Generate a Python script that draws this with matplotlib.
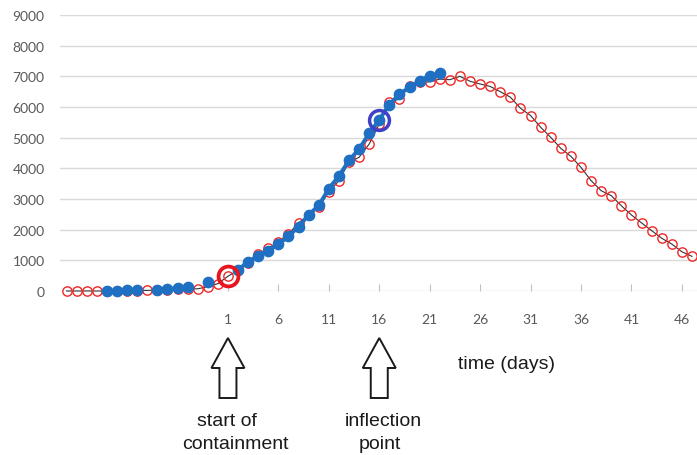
import numpy as np
import matplotlib
matplotlib.use("Agg")
import matplotlib.pyplot as plt
from matplotlib.patches import Polygon
from matplotlib.transforms import IdentityTransform

# ---------------- data ----------------
days_model = list(range(-15, 48))
model_cases = [0, 0, 0, 0, 0, 5, 10, 15, 20, 30, 40, 55, 75, 70, 140,   # -15..-1
               240,                                                    # 0
               480, 680, 920, 1200, 1390, 1600, 1860, 2220, 2480, 2730,  # 1..10
               3220, 3600, 4200, 4360, 4790, 5450, 6150, 6260, 6690, 6800,  # 11..20
               6820, 6910, 6890, 7000, 6840, 6750, 6670, 6500, 6320, 5960,  # 21..30
               5720, 5340, 5010, 4650, 4390, 4030, 3600, 3270, 3110, 2780,  # 31..40
               2480, 2220, 1970, 1720, 1530, 1280, 1130]                    # 41..47

days_obs = list(range(-11, 23))
nan = float("nan")
obs_cases = [0, 5, 20, 40, nan, 30, 60, 90, 130, nan, 300, nan,     # -11..0
             nan, 690, 950, 1150, 1310, 1530, 1780, 2100, 2480, 2790,  # 1..10
             3340, 3750, 4260, 4630, 5140, 5580, 6080, 6420, 6640, 6860,  # 11..20
             7020, 7100]                                                # 21..22

x_tick_days = list(range(1, 47, 5))
y_ticks = list(range(0, 9001, 1000))

containment_day = 1
inflection_day = 16

# ---------------- figure ----------------
W, H = 697, 456
fig = plt.figure(figsize=(W / 100, H / 100), dpi=100)
fig.patch.set_facecolor("white")
ax = fig.add_axes([60 / W, (H - 292) / H, (W - 60) / W, (292 - 16) / H])

ax.set_xlim(-15.65, 47.5)
ax.set_ylim(0, 9000)

for s in ax.spines.values():
    s.set_visible(False)

ax.set_yticks(y_ticks)
ax.yaxis.grid(True, color="#D9D9D9", linewidth=1.0)
ax.set_axisbelow(True)
ax.tick_params(axis="y", length=0, pad=11, labelsize=10, labelcolor="#595959")
for lab in ax.get_yticklabels():
    lab.set_fontfamily("Lato")

ax.set_xticks(x_tick_days)
ax.set_xticklabels([str(d) for d in x_tick_days])
ax.tick_params(axis="x", direction="in", length=5, width=0.8, color="#BFBFBF",
               pad=16, labelsize=10, labelcolor="#595959")
for lab in ax.get_xticklabels():
    lab.set_fontfamily("Lato")

# model curve (hollow red circles with thin dark line)
ax.plot(days_model, model_cases, color="#333333", linewidth=0.8,
        marker="o", markersize=6.7, markerfacecolor="none",
        markeredgecolor="#F02828", markeredgewidth=1.0, clip_on=False, zorder=3)

# observed data (blue)
ax.plot(days_obs, obs_cases, color="#1F6FC2", linewidth=2.8,
        marker="o", markersize=7.4, markerfacecolor="#1F6FC2",
        markeredgecolor="#1F6FC2", clip_on=False, zorder=4)

# highlight rings
y_cont = model_cases[days_model.index(containment_day)]
y_infl = obs_cases[days_obs.index(inflection_day)]
ax.plot([containment_day], [y_cont], marker="o", markersize=14.3,
        markerfacecolor="none", markeredgecolor="#E8141E", markeredgewidth=2.7,
        linestyle="none", clip_on=False, zorder=6)
ax.plot([inflection_day], [y_infl], marker="o", markersize=14.3,
        markerfacecolor="none", markeredgecolor="#3F3FC8", markeredgewidth=2.5,
        linestyle="none", clip_on=False, zorder=6)

# ---------------- block arrows ----------------
def block_arrow(day):
    xt = ax.transData.transform((day, 0))[0]
    tip, base, bottom = H - 339, H - 369, H - 399
    hw, sw = 16.5, 8.5
    pts = [(xt, tip), (xt + hw, base), (xt + sw, base), (xt + sw, bottom),
           (xt - sw, bottom), (xt - sw, base), (xt - hw, base)]
    poly = Polygon(pts, closed=True, facecolor="white", edgecolor="#1a1a1a",
                   linewidth=1.4, transform=IdentityTransform(), zorder=10)
    fig.patches.append(poly)
    return xt

x1 = block_arrow(containment_day)
x2 = block_arrow(inflection_day)

tkw = dict(fontsize=14, family="Liberation Sans", color="#1a1a1a",
           ha="center", va="center")
fig.text((x1 - 1) / W, 1 - 421.5 / H, "start of", **tkw)
fig.text((x1 + 7) / W, 1 - 445 / H, "containment", **tkw)
fig.text((x2 + 4) / W, 1 - 421.5 / H, "inflection", **tkw)
fig.text((x2 + 1) / W, 1 - 445 / H, "point", **tkw)
fig.text(507 / W, 1 - 365 / H, "time (days)", **tkw)

fig.savefig("out.png", dpi=100)
